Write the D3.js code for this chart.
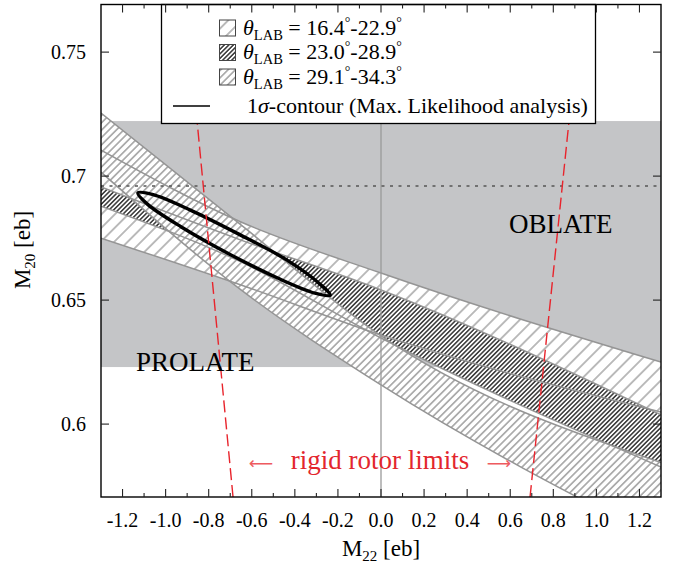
<!DOCTYPE html>
<html>
<head>
<meta charset="utf-8">
<script src="https://cdn.jsdelivr.net/npm/d3@7"></script>
<style>
  body { margin: 0; background: #fff; }
  svg { display: block; }
</style>
</head>
<body>
<div id="chart"></div>
<script>
// ---- values ----
var xTicks = [-1.2, -1.0, -0.8, -0.6, -0.4, -0.2, 0.0, 0.2, 0.4, 0.6, 0.8, 1.0, 1.2];
var xMinorTicks = [-1.1, -0.9, -0.7, -0.5, -0.3, -0.1, 0.1, 0.3, 0.5, 0.7, 0.9, 1.1];
var yTicks = [0.6, 0.65, 0.7, 0.75];
var yTickLabels = ['0.6', '0.65', '0.7', '0.75'];

// shaded region (between prolate / oblate boundaries) and dotted reference
var shadedRange = [0.6230, 0.7222];
var dottedLevel = 0.6960;

// band boundaries, sampled at these M22 values
var bandX = [-1.3, -0.65, 0.0, 1.3];
var bandAUpper = [0.7105, 0.6815, 0.6609, 0.6250];   // 16.4-22.9 deg
var bandALower = [0.6750, 0.6561, 0.6359, 0.6049];
var bandBUpper = [0.6956, 0.6742, 0.6541, 0.6037];   // 23.0-28.9 deg
var bandBLower = [0.6879, 0.6654, 0.6347, 0.5827];
var bandCUpper = [0.7254, 0.6803, 0.6356, 0.5845];   // 29.1-34.3 deg
var bandCLower = [0.7016, 0.6541, 0.6158, 0.5530];

// 1 sigma contour (M22, M20)
var contour = [
    [-0.236, 0.6520], [-0.307, 0.6528], [-0.480, 0.6589], [-0.707, 0.6687],
    [-0.927, 0.6795], [-1.082, 0.6885], [-1.129, 0.6932], [-1.058, 0.6925],
    [-0.885, 0.6863], [-0.658, 0.6765], [-0.438, 0.6662], [-0.284, 0.6565]
];

// rigid rotor limits
var rotorLeft = [[-0.687, 0.5706], [-0.854, 0.7222], [-0.906, 0.7692]];
var rotorRight = [[0.692, 0.5706], [0.873, 0.7222], [0.929, 0.7692]];

var legendLabels = [
    {from: '16.4', to: '22.9', pat: 'hatchA'},
    {from: '23.0', to: '28.9', pat: 'hatchB'},
    {from: '29.1', to: '34.3', pat: 'hatchC'}
];

// ---- layout ----
var width = 685, height = 565;
var plot = {left: 101, right: 661, top: 4.5, bottom: 497};
var serif = '"Liberation Serif", "Times New Roman", serif';

var x = d3.scaleLinear().domain([-1.3, 1.3]).range([plot.left, plot.right]);
var y = d3.scaleLinear().domain([0.5706, 0.7692]).range([plot.bottom, plot.top]);

var svg = d3.select('#chart').append('svg')
    .attr('width', width)
    .attr('height', height)
    .attr('font-family', serif);

var defs = svg.append('defs');
defs.append('clipPath').attr('id', 'plotClip')
    .append('rect')
    .attr('x', plot.left).attr('y', plot.top)
    .attr('width', plot.right - plot.left)
    .attr('height', plot.bottom - plot.top);

// hatch patterns
function hatch(id, gap, color, w) {
    var p = defs.append('pattern')
        .attr('id', id)
        .attr('patternUnits', 'userSpaceOnUse')
        .attr('width', gap).attr('height', gap)
        .attr('patternTransform', 'rotate(45)');
    p.append('rect').attr('width', gap).attr('height', gap).attr('fill', '#fff');
    p.append('line')
        .attr('x1', gap / 2).attr('y1', 0).attr('x2', gap / 2).attr('y2', gap)
        .attr('stroke', color).attr('stroke-width', w);
}
hatch('hatchA', 9.5, '#7a7a7a', 1);
hatch('hatchB', 3.2, '#262626', 1.4);
hatch('hatchC', 5.2, '#6e6e6e', 1);

var g = svg.append('g').attr('clip-path', 'url(#plotClip)');

// shaded region
g.append('rect')
    .attr('x', plot.left)
    .attr('y', y(shadedRange[1]))
    .attr('width', plot.right - plot.left)
    .attr('height', y(shadedRange[0]) - y(shadedRange[1]))
    .attr('fill', '#c4c5c7');

// bands
var bandArea = d3.area()
    .x(function(d) { return x(d.x); })
    .y0(function(d) { return y(d.lo); })
    .y1(function(d) { return y(d.hi); })
    .curve(d3.curveMonotoneX);
var edgeLine = d3.line()
    .x(function(d) { return x(d[0]); })
    .y(function(d) { return y(d[1]); })
    .curve(d3.curveMonotoneX);

var bands = [
    {pat: 'hatchA', hi: bandAUpper, lo: bandALower},
    {pat: 'hatchB', hi: bandBUpper, lo: bandBLower},
    {pat: 'hatchC', hi: bandCUpper, lo: bandCLower}
];
bands.forEach(function(b) {
    var pts = bandX.map(function(v, i) { return {x: v, hi: b.hi[i], lo: b.lo[i]}; });
    g.append('path')
        .attr('d', bandArea(pts))
        .attr('fill', 'url(#' + b.pat + ')');
});
bands.forEach(function(b) {
    [b.hi, b.lo].forEach(function(arr) {
        g.append('path')
            .attr('d', edgeLine(bandX.map(function(v, i) { return [v, arr[i]]; })))
            .attr('fill', 'none')
            .attr('stroke', '#959595')
            .attr('stroke-width', 1.5);
    });
});

// M22 = 0 line
g.append('line')
    .attr('x1', x(0)).attr('x2', x(0))
    .attr('y1', plot.top).attr('y2', plot.bottom)
    .attr('stroke', '#9a9a9a').attr('stroke-width', 1.3);

// dotted level
g.append('line')
    .attr('x1', plot.left).attr('x2', plot.right)
    .attr('y1', y(dottedLevel)).attr('y2', y(dottedLevel))
    .attr('stroke', '#555').attr('stroke-width', 1.6)
    .attr('stroke-dasharray', '3,5.5');

// 1 sigma contour
g.append('path')
    .attr('d', d3.line()
        .x(function(d) { return x(d[0]); })
        .y(function(d) { return y(d[1]); })
        .curve(d3.curveCatmullRomClosed)(contour))
    .attr('fill', 'none')
    .attr('stroke', '#000')
    .attr('stroke-width', 3.4);

// labels inside the plot
svg.append('text').text('OBLATE')
    .attr('x', 509).attr('y', 233)
    .style('font-size', '27px');
svg.append('text').text('PROLATE')
    .attr('x', 136).attr('y', 371)
    .style('font-size', '27px');

// rigid rotor limits
var rotorLine = d3.line()
    .x(function(d) { return x(d[0]); })
    .y(function(d) { return y(d[1]); });
[rotorLeft, rotorRight].forEach(function(r) {
    g.append('path')
        .attr('d', rotorLine(r))
        .attr('fill', 'none')
        .attr('stroke', '#e8242c')
        .attr('stroke-width', 1.4)
        .attr('stroke-dasharray', '12,5');
});
svg.append('text').text('rigid rotor limits')
    .attr('x', 380).attr('y', 469)
    .attr('text-anchor', 'middle')
    .style('font-size', '27px')
    .style('fill', '#e3262d');
svg.append('text').text('\u27f5')
    .attr('x', 261).attr('y', 469)
    .attr('text-anchor', 'middle')
    .attr('font-family', '"DejaVu Sans", sans-serif')
    .style('font-size', '17px')
    .style('fill', '#ee5a5f');
svg.append('text').text('\u27f6')
    .attr('x', 499).attr('y', 469)
    .attr('text-anchor', 'middle')
    .attr('font-family', '"DejaVu Sans", sans-serif')
    .style('font-size', '17px')
    .style('fill', '#ee5a5f');

// legend
var lg = svg.append('g');
lg.append('rect')
    .attr('x', 161.5).attr('y', plot.top)
    .attr('width', 434).attr('height', 119)
    .attr('fill', '#fff')
    .attr('stroke', '#000').attr('stroke-width', 1.3);
legendLabels.forEach(function(d, i) {
    var cy = 28 + i * 24.5;
    lg.append('rect')
        .attr('x', 219.5).attr('y', cy - 8)
        .attr('width', 16).attr('height', 16)
        .attr('fill', 'url(#' + d.pat + ')')
        .attr('stroke', '#444').attr('stroke-width', 1);
    var t = lg.append('text')
        .attr('x', 243).attr('y', cy + 6.5)
        .style('font-size', '22px');
    t.append('tspan').text('\u03b8').style('font-style', 'italic');
    t.append('tspan').text('LAB').attr('dy', 5).style('font-size', '14.5px');
    t.append('tspan').text(' = ' + d.from).attr('dy', -5);
    t.append('tspan').text('\u00b0').attr('dy', -8).style('font-size', '14px');
    t.append('tspan').text('-' + d.to).attr('dy', 8);
    t.append('tspan').text('\u00b0').attr('dy', -8).style('font-size', '14px');
});
lg.append('line')
    .attr('x1', 173).attr('x2', 210)
    .attr('y1', 106).attr('y2', 106)
    .attr('stroke', '#000').attr('stroke-width', 1.3);
var lt = lg.append('text')
    .attr('x', 247).attr('y', 113)
    .style('font-size', '22px');
lt.append('tspan').text('1');
lt.append('tspan').text('\u03c3').style('font-style', 'italic');
lt.append('tspan').text('-contour (Max. Likelihood analysis)');

// frame
svg.append('rect')
    .attr('x', plot.left).attr('y', plot.top)
    .attr('width', plot.right - plot.left)
    .attr('height', plot.bottom - plot.top)
    .attr('fill', 'none')
    .attr('stroke', '#000').attr('stroke-width', 1.4);

// ticks on all four sides, pointing inward
var tk = svg.append('g').attr('stroke', '#222').attr('stroke-width', 1.1);
xTicks.forEach(function(v) {
    tk.append('line').attr('x1', x(v)).attr('x2', x(v)).attr('y1', plot.bottom).attr('y2', plot.bottom - 8);
    tk.append('line').attr('x1', x(v)).attr('x2', x(v)).attr('y1', plot.top).attr('y2', plot.top + 8);
});
xMinorTicks.forEach(function(v) {
    tk.append('line').attr('x1', x(v)).attr('x2', x(v)).attr('y1', plot.bottom).attr('y2', plot.bottom - 4);
    tk.append('line').attr('x1', x(v)).attr('x2', x(v)).attr('y1', plot.top).attr('y2', plot.top + 4);
});
yTicks.forEach(function(v) {
    tk.append('line').attr('x1', plot.left).attr('x2', plot.left + 8).attr('y1', y(v)).attr('y2', y(v));
    tk.append('line').attr('x1', plot.right).attr('x2', plot.right - 8).attr('y1', y(v)).attr('y2', y(v));
});

// tick labels
xTicks.forEach(function(v) {
    svg.append('text')
        .text(v.toFixed(1))
        .attr('x', x(v)).attr('y', 527)
        .attr('text-anchor', 'middle')
        .style('font-size', '20px');
});
yTicks.forEach(function(v, i) {
    svg.append('text')
        .text(yTickLabels[i])
        .attr('x', 86).attr('y', y(v) + 6.5)
        .attr('text-anchor', 'end')
        .style('font-size', '20px');
});

// axis titles
var xt = svg.append('text')
    .attr('x', 381).attr('y', 556)
    .attr('text-anchor', 'middle')
    .style('font-size', '23px');
xt.append('tspan').text('M');
xt.append('tspan').text('22').attr('dy', 5).style('font-size', '15px');
xt.append('tspan').text(' [eb]').attr('dy', -5);

var yt = svg.append('text')
    .attr('transform', 'translate(30,250) rotate(-90)')
    .attr('text-anchor', 'middle')
    .style('font-size', '23px');
yt.append('tspan').text('M');
yt.append('tspan').text('20').attr('dy', 5).style('font-size', '15px');
yt.append('tspan').text(' [eb]').attr('dy', -5);
</script>
</body>
</html>
